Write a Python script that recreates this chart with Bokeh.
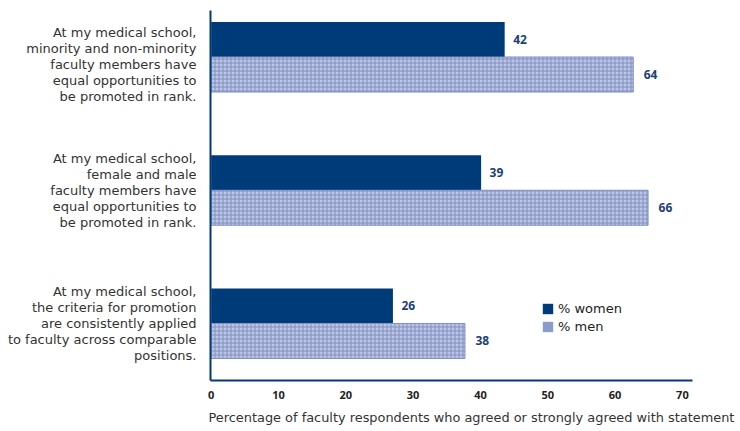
from bokeh.plotting import figure
from bokeh.models import Range1d, Legend, LegendItem, Title
from bokeh.core.properties import value
from bokeh.embed import file_html
from bokeh.resources import INLINE

statements = [
    "At my medical school,\nminority and non-minority\nfaculty members have\nequal opportunities to\nbe promoted in rank.",
    "At my medical school,\nfemale and male\nfaculty members have\nequal opportunities to\nbe promoted in rank.",
    "At my medical school,\nthe criteria for promotion\nare consistently applied\nto faculty across comparable\npositions.",
]
# vertical anchor of each statement (the first one sits slightly lower)
statement_pos = [0.055, 1.0, 2.0]
women_labels = [42, 39, 26]
men_labels = [64, 66, 38]
# bar lengths as drawn in the picture
women_bar = [43.6, 40.1, 27.0]
men_bar = [62.7, 64.9, 37.7]
x_ticks = [0, 10, 20, 30, 40, 50, 60, 70]
series_names = ["% women", "% men"]
x_title = "Percentage of faculty respondents who agreed or strongly agreed with statement"

NAVY = "#003b79"
MEN_FILL = "#bcc6e3"
MEN_HATCH = "#8090c3"
MEN_LEGEND = "#8a9cc8"
FONT = "DejaVu Sans"
NUM_FONT = "Open Sans"

groups = list(range(len(statements)))
bar_h = 0.263
yw = [g - bar_h / 2 for g in groups]
ym = [g + bar_h / 2 for g in groups]
y_top, y_bottom = -0.349, 2.428

p = figure(width=736, height=431, output_backend="svg", toolbar_location=None,
           x_range=Range1d(-0.1, 71.5), y_range=Range1d(y_bottom, y_top),
           min_border_left=210, min_border_right=44, min_border_top=10,
           min_border_bottom=51)
p.xgrid.visible = False
p.ygrid.visible = False
p.outline_line_color = None
p.background_fill_color = "white"
p.border_fill_color = "white"

rw = p.hbar(y=yw, left=0, right=women_bar, height=bar_h,
            fill_color=NAVY, line_color=None)
rm = p.hbar(y=ym, left=0, right=men_bar, height=bar_h,
            fill_color=MEN_FILL, line_color=MEN_HATCH, line_width=1,
            hatch_pattern="+", hatch_color=MEN_HATCH, hatch_scale=4,
            hatch_weight=1)
# zero-width proxy so that the legend swatch is a plain colour
rm_proxy = p.hbar(y=[groups[0]], left=[0], right=[0], height=bar_h,
                  fill_color=MEN_LEGEND, line_color=None)

p.text(x=women_bar, y=yw, text=[str(v) for v in women_labels], x_offset=8.5,
       text_baseline="middle", text_align="left", text_font=value(NUM_FONT),
       text_font_style="bold", text_font_size="12px", text_color="#1d3f76")
p.text(x=men_bar, y=ym, text=[str(v) for v in men_labels], x_offset=10.5,
       text_baseline="middle", text_align="left", text_font=value(NUM_FONT),
       text_font_style="bold", text_font_size="12px", text_color="#1d3f76")

# axes
xa = p.xaxis[0]
xa.ticker = x_ticks
xa.major_tick_out = 0
xa.major_tick_in = 0
xa.minor_tick_out = 0
xa.minor_tick_in = 0
xa.axis_line_width = 2
xa.axis_line_color = NAVY
xa.major_label_standoff = 10
xa.major_label_text_font = NUM_FONT
xa.major_label_text_font_style = "bold"
xa.major_label_text_font_size = "11px"
xa.major_label_text_color = "#222222"

ya = p.yaxis[0]
ya.ticker = statement_pos
ya.major_label_overrides = {pos: s for pos, s in zip(statement_pos, statements)}
ya.major_tick_out = 0
ya.major_tick_in = 0
ya.minor_tick_out = 0
ya.minor_tick_in = 0
ya.axis_line_width = 2
ya.axis_line_color = NAVY
ya.major_label_standoff = 14
ya.major_label_text_font = FONT
ya.major_label_text_font_size = "13px"
ya.major_label_text_color = "#333333"
ya.major_label_text_line_height = 1.06

legend = Legend(items=[LegendItem(label=series_names[0], renderers=[rw]),
                       LegendItem(label=series_names[1], renderers=[rm_proxy])],
                location=(331, 46), padding=0, margin=0, spacing=3,
                glyph_width=13, glyph_height=13, label_height=13,
                label_standoff=4, border_line_color=None,
                background_fill_alpha=0, label_text_font=FONT,
                label_text_font_size="13px", label_text_color="#222222")
p.add_layout(legend)

t = Title(text=x_title, align="left", text_font=FONT, text_font_size="12.9px",
          text_font_style="normal", text_color="#333333", standoff=13,
          offset=-2)
p.add_layout(t, "below")

open("out.html", "w").write(file_html(p, INLINE))
